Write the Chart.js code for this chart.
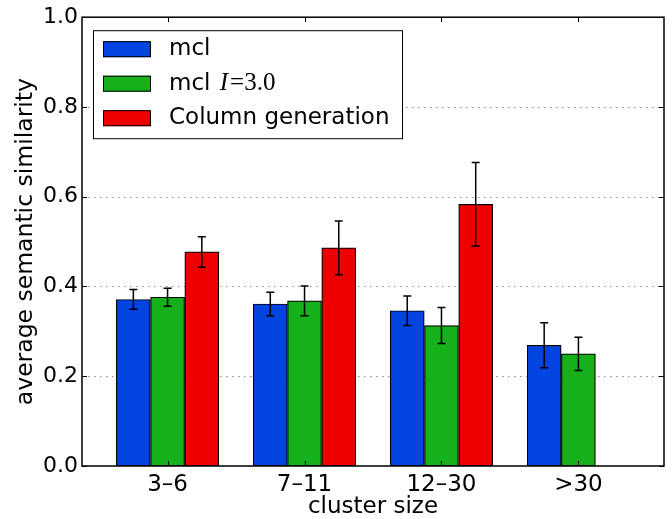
<!DOCTYPE html>
<html>
<head>
<meta charset="utf-8">
<script src="https://cdn.jsdelivr.net/npm/chart.js@4/dist/chart.umd.min.js"></script>
<style>
html,body{margin:0;padding:0;background:#fff;}
#wrap{width:672px;height:519px;}
</style>
</head>
<body>
<div id="wrap"><canvas id="c" width="672" height="519"></canvas></div>
<script>
const categories = ["3\u20136", "7\u201311", "12\u201330", ">30"];
const seriesNames = ["mcl", "mcl I=3.0", "Column generation"];
const mclValues = [0.371, 0.361, 0.346, 0.269];
const mclErrors = [0.022, 0.026, 0.033, 0.050];
const mclI3Values = [0.376, 0.368, 0.313, 0.250];
const mclI3Errors = [0.020, 0.033, 0.040, 0.037];
const colGenValues = [0.477, 0.486, 0.583, null];
const colGenErrors = [0.034, 0.060, 0.093, null];
const yTicks = [0.0, 0.2, 0.4, 0.6, 0.8, 1.0];
const colors = ["#0343df", "#15b01a", "#ee0000"];

const FONT = "'DejaVu Sans', sans-serif";
const offsets = [-0.25, 0, 0.25];
const allValues = [mclValues, mclI3Values, colGenValues];
const allErrors = [mclErrors, mclI3Errors, colGenErrors];

const datasets = allValues.map((vals, k) => ({
  label: seriesNames[k],
  data: vals.map((v, i) => ({x: i + offsets[k], y: v})),
  errors: allErrors[k],
  backgroundColor: colors[k],
  borderColor: "#000",
  borderWidth: 1.2,
  borderSkipped: false,
  barThickness: 34,
  grouped: false
}));

const framePlugin = {
  id: "frame",
  beforeDatasetsDraw(chart) {
    const {ctx, chartArea: a, scales: {y}} = chart;
    ctx.save();
    ctx.strokeStyle = "#8a8a8a";
    ctx.lineWidth = 1.2;
    ctx.setLineDash([1.5, 4.5]);
    yTicks.forEach(v => {
      if (v <= 0 || v >= 1) return;
      const py = Math.round(y.getPixelForValue(v)) + 0.5;
      ctx.beginPath(); ctx.moveTo(a.left, py); ctx.lineTo(a.right, py); ctx.stroke();
    });
    ctx.restore();
  },
  afterDatasetsDraw(chart) {
    const {ctx, chartArea: a, scales: {x, y}} = chart;
    ctx.save();
    ctx.strokeStyle = "#000";
    ctx.lineWidth = 1.5;
    chart.data.datasets.forEach((ds, k) => {
      const meta = chart.getDatasetMeta(k);
      meta.data.forEach((el, i) => {
        const v = ds.data[i].y, e = ds.errors[i];
        if (v == null || e == null) return;
        const px = el.x;
        const y1 = y.getPixelForValue(v + e), y2 = y.getPixelForValue(v - e);
        ctx.beginPath();
        ctx.moveTo(px, y1); ctx.lineTo(px, y2);
        ctx.moveTo(px - 4, y1); ctx.lineTo(px + 4, y1);
        ctx.moveTo(px - 4, y2); ctx.lineTo(px + 4, y2);
        ctx.stroke();
      });
    });
    ctx.lineWidth = 1;
    yTicks.forEach(v => {
      const py = Math.round(y.getPixelForValue(v)) + 0.5;
      ctx.beginPath();
      ctx.moveTo(a.left, py); ctx.lineTo(a.left + 5, py);
      ctx.moveTo(a.right, py); ctx.lineTo(a.right - 5, py);
      ctx.stroke();
    });
    categories.forEach((c, i) => {
      const px = Math.round(x.getPixelForValue(i)) + 0.5;
      ctx.beginPath();
      ctx.moveTo(px, a.bottom); ctx.lineTo(px, a.bottom - 5);
      ctx.moveTo(px, a.top); ctx.lineTo(px, a.top + 5);
      ctx.stroke();
    });
    ctx.lineWidth = 1.5;
    ctx.strokeStyle = "#000";
    ctx.strokeRect(a.left, a.top, a.right - a.left, a.bottom - a.top);
    ctx.restore();
  },
  afterDraw(chart) {
    const {ctx, chartArea: a} = chart;
    ctx.save();
    const bx = a.left + 11, by = a.top + 13, bw = 309, bh = 108;
    ctx.fillStyle = "#fff";
    ctx.fillRect(bx, by, bw, bh);
    ctx.strokeStyle = "#000";
    ctx.lineWidth = 1;
    ctx.strokeRect(bx + 0.5, by + 0.5, bw, bh);
    const rows = [by + 19, by + 53.5, by + 88];
    ctx.textBaseline = "middle";
    rows.forEach((ry, k) => {
      ctx.fillStyle = colors[k];
      ctx.fillRect(bx + 10, ry - 8, 47, 16);
      ctx.strokeStyle = "#000";
      ctx.lineWidth = 1;
      ctx.strokeRect(bx + 10.5, ry - 7.5, 47, 15);
      ctx.fillStyle = "#000";
      const tx = bx + 76;
      ctx.font = "23px " + FONT;
      if (k === 1) {
        ctx.fillText("mcl ", tx, ry);
        let w = ctx.measureText("mcl ").width;
        ctx.font = "italic 25px 'Liberation Serif', serif";
        ctx.fillText("I", tx + w + 2, ry);
        w += ctx.measureText("I").width + 4;
        ctx.font = "25px 'Liberation Serif', serif";
        ctx.fillText("=3.0", tx + w, ry);
      } else {
        ctx.fillText(seriesNames[k], tx, ry);
      }
    });
    ctx.restore();
  }
};

new Chart(document.getElementById("c"), {
  type: "bar",
  data: {datasets},
  options: {
    responsive: false,
    animation: false,
    layout: {padding: {top: 17, right: 8, left: 0, bottom: 0}},
    plugins: {legend: {display: false}, tooltip: {enabled: false}},
    scales: {
      x: {
        type: "linear",
        min: -0.625,
        max: 3.625,
        offset: false,
        afterFit(s) { s.height = 53; },
        afterBuildTicks(s) { s.ticks = categories.map((c, i) => ({value: i})); },
        ticks: {
          autoSkip: false,
          maxRotation: 0,
          padding: 5,
          color: "#000",
          font: {family: FONT, size: 23},
          callback: v => categories[v]
        },
        grid: {display: false, drawTicks: false},
        border: {display: false},
        title: {
          display: true, text: "cluster size", color: "#000",
          font: {family: FONT, size: 23, lineHeight: 1.0},
          padding: {top: 0, bottom: 0}
        }
      },
      y: {
        min: 0,
        max: 1,
        afterFit(s) { s.width = 82; },
        afterBuildTicks(s) { s.ticks = yTicks.map(v => ({value: v})); },
        ticks: {
          padding: 4,
          color: "#000",
          font: {family: FONT, size: 22},
          callback: v => Number(v).toFixed(1)
        },
        grid: {display: false, drawTicks: false},
        border: {display: false},
        title: {
          display: true, text: "average semantic similarity", color: "#000",
          font: {family: FONT, size: 23.5, lineHeight: 1.0},
          padding: {top: 14, bottom: 0}
        }
      }
    }
  },
  plugins: [framePlugin]
});
</script>
</body>
</html>
